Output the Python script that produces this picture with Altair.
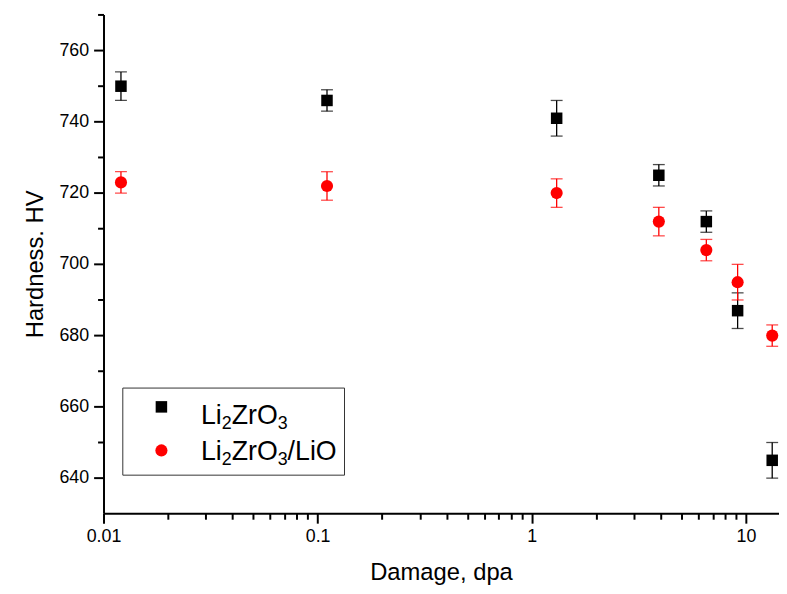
import altair as alt
import pandas as pd

# ---- data ----
damage = [0.012, 0.11, 1.3, 3.9, 6.5, 9.1, 13.2]
hv_li2zro3 = [750, 746, 741, 725, 712, 687, 645]
err_li2zro3 = [4, 3, 5, 3, 3, 5, 5]
hv_lio = [723, 722, 720, 712, 704, 695, 680]
err_lio = [3, 4, 4, 4, 3, 5, 3]
x_major = [0.01, 0.1, 1, 10]
x_minor = [0.02, 0.03, 0.04, 0.05, 0.06, 0.07, 0.08, 0.09,
           0.2, 0.3, 0.4, 0.5, 0.6, 0.7, 0.8, 0.9,
           2, 3, 4, 5, 6, 7, 8, 9]
y_major = [640, 660, 680, 700, 720, 740, 760]
y_minor = [650, 670, 690, 710, 730, 750, 770]

W, H = 682, 504
FONT = "Liberation Sans"


def series(x, y, e):
    return pd.DataFrame({"x": x, "y": y,
                         "lo": [a - b for a, b in zip(y, e)],
                         "hi": [a + b for a, b in zip(y, e)]})


black_df = series(damage, hv_li2zro3, err_li2zro3)
red_df = series(damage, hv_lio, err_lio)

x_is_major = "indexof([%s], datum.value) >= 0" % ",".join(str(v) for v in x_major)
y_is_major = "indexof([%s], datum.value) >= 0" % ",".join(str(v) for v in y_major)

xscale = alt.Scale(type="log", domain=[0.01, 14.2], nice=False)
yscale = alt.Scale(domain=[630, 770], nice=False, zero=False)
xaxis = alt.Axis(values=sorted(x_major + x_minor), format="~g",
                 labelExpr=x_is_major + " ? datum.label : ''",
                 tickSize=alt.condition(x_is_major, alt.value(10), alt.value(6)),
                 title="Damage, dpa", titlePadding=15)
yaxis = alt.Axis(values=sorted(y_major + y_minor),
                 labelExpr=y_is_major + " ? datum.label : ''",
                 tickSize=alt.condition(y_is_major, alt.value(10), alt.value(6)),
                 title="Hardness. HV", titlePadding=12)


def err_layers(df, color):
    base = alt.Chart(df)
    bars = base.mark_rule(color=color, strokeWidth=1.3).encode(
        x=alt.X("x:Q", scale=xscale, axis=xaxis),
        y=alt.Y("lo:Q", scale=yscale, axis=yaxis),
        y2="hi:Q")
    cap_lo = base.mark_tick(color=color, orient="horizontal", size=12, thickness=1.3).encode(
        x=alt.X("x:Q", scale=xscale, axis=xaxis),
        y=alt.Y("lo:Q", scale=yscale, axis=yaxis))
    cap_hi = base.mark_tick(color=color, orient="horizontal", size=12, thickness=1.3).encode(
        x=alt.X("x:Q", scale=xscale, axis=xaxis),
        y=alt.Y("hi:Q", scale=yscale, axis=yaxis))
    return [bars, cap_lo, cap_hi]


black_pts = alt.Chart(black_df).mark_point(
    shape="square", filled=True, size=135, color="black", opacity=1).encode(
    x=alt.X("x:Q", scale=xscale, axis=xaxis),
    y=alt.Y("y:Q", scale=yscale, axis=yaxis))
red_pts = alt.Chart(red_df).mark_point(
    shape="circle", filled=True, size=150, color="#ff0000", opacity=1).encode(
    x=alt.X("x:Q", scale=xscale, axis=xaxis),
    y=alt.Y("y:Q", scale=yscale, axis=yaxis))

# ---- hand-built legend (for subscripts) ----
one = pd.DataFrame({"k": [0]})
legend_box = alt.Chart(one).mark_rect(
    fill="white", stroke="#333333", strokeWidth=1).encode(
    x=alt.value(19), x2=alt.value(243), y=alt.value(377), y2=alt.value(465))
leg_sq = alt.Chart(one).mark_point(
    shape="square", filled=True, size=135, color="black", opacity=1).encode(
    x=alt.value(58), y=alt.value(396))
leg_ci = alt.Chart(one).mark_point(
    shape="circle", filled=True, size=150, color="#ff0000", opacity=1).encode(
    x=alt.value(58), y=alt.value(440))

MAIN, SUB = 27, 18
ADV = {"L": 0.556, "i": 0.222, "Z": 0.611, "r": 0.333, "O": 0.778, "/": 0.278,
       "2": 0.556, "3": 0.556}


def label_pieces(pieces, x0, y0):
    layers = []
    x = x0
    for txt, is_sub in pieces:
        fs = SUB if is_sub else MAIN
        yy = y0 + (5 if is_sub else 0)
        layers.append(alt.Chart(one).mark_text(
            text=txt, font=FONT, fontSize=fs, align="left", baseline="alphabetic",
            color="black").encode(x=alt.value(x), y=alt.value(yy)))
        x += sum(ADV[c] for c in txt) * fs
    return layers


leg_text = (label_pieces([("Li", False), ("2", True), ("ZrO", False), ("3", True)], 98, 413)
            + label_pieces([("Li", False), ("2", True), ("ZrO", False), ("3", True),
                            ("/LiO", False)], 98, 450))

layers = (err_layers(black_df, "black") + [black_pts]
          + err_layers(red_df, "#ff0000") + [red_pts]
          + [legend_box, leg_sq, leg_ci] + leg_text)

chart = alt.layer(*layers).properties(
    width=W, height=H,
    autosize=alt.AutoSizeParams(type="none"),
    padding={"left": 97, "top": 4, "right": 0, "bottom": 72},
    background="white",
).configure_view(stroke=None).configure_axis(
    grid=False, domainColor="black", domainWidth=2, tickColor="black", tickWidth=2,
    translate=0,
    labelFont=FONT, labelFontSize=18, labelColor="black", labelPadding=5,
    titleFont=FONT, titleFontSize=24, titleFontWeight="normal", titleColor="black",
    labelFlush=False, labelOverlap=False)

chart.save("out.html", embed_options={"renderer": "svg", "actions": False})
